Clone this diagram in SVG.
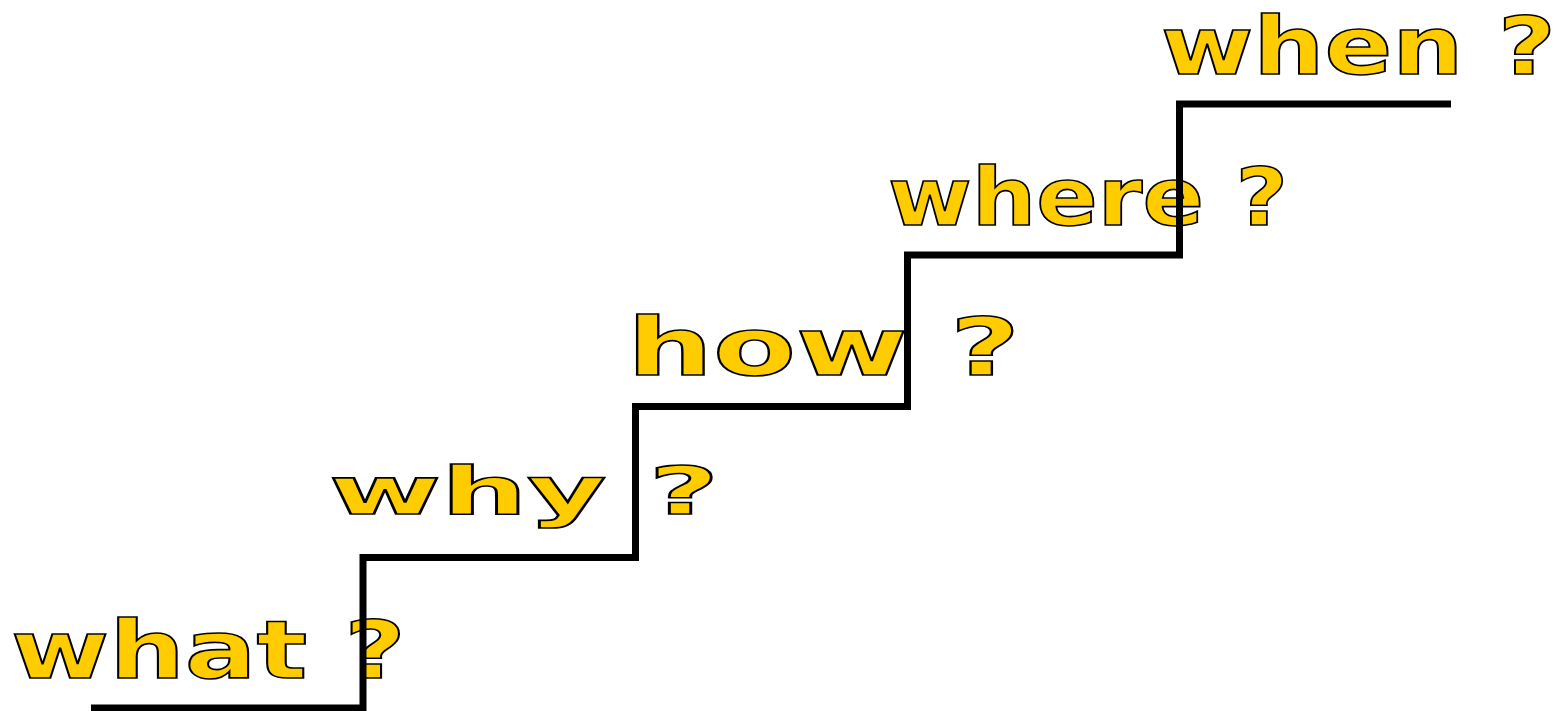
<svg xmlns="http://www.w3.org/2000/svg" width="1557" height="711" viewBox="0 0 1557 711">
  <style>
    .lbl { font-family: "DejaVu Sans", "Liberation Sans", sans-serif; font-weight: bold; font-size: 80px; fill: #ffcc00; stroke: #000000; stroke-width: 1.6px; }
    .small { font-size: 65px; }
    .stair { fill: none; stroke: #000000; stroke-width: 7; stroke-linejoin: miter; }
  </style>
  <rect width="1557" height="711" fill="#ffffff"/>
  <g id="what"><text class="lbl" x="11" y="678" textLength="395" lengthAdjust="spacingAndGlyphs">what ?</text></g>
  <g id="why"><text class="lbl small" x="329" y="514" textLength="390" lengthAdjust="spacingAndGlyphs">why ?</text></g>
  <g id="how"><text class="lbl" x="627" y="375" textLength="393" lengthAdjust="spacingAndGlyphs">how ?</text></g>
  <g id="where"><text class="lbl" x="888" y="225" textLength="400" lengthAdjust="spacingAndGlyphs">where ?</text></g>
  <g id="when"><text class="lbl" x="1161" y="74" textLength="395" lengthAdjust="spacingAndGlyphs">when ?</text></g>
  <g id="connectors">
    <path class="stair" d="M91,708 H363 V557.5 H635.5 V406.5 H907.5 V255 H1179.5 V104 H1451"/>
  </g>
</svg>
